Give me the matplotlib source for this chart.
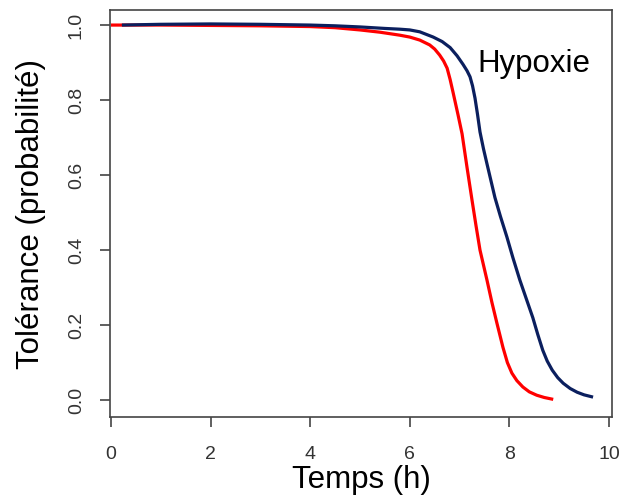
import numpy as np
import matplotlib
matplotlib.use("Agg")
from matplotlib import pyplot as plt

# valeurs
temps_normoxie = [0.0, 1.0, 2.0, 3.0, 4.0, 4.5, 5.0, 5.4, 5.8, 6.0, 6.2, 6.4, 6.5, 6.6, 6.68, 6.75,
                  6.81, 6.87, 6.92, 6.97, 7.05, 7.15, 7.25, 7.33, 7.41, 7.48, 7.55, 7.65, 7.75,
                  7.87, 7.96, 8.05, 8.15, 8.27, 8.4, 8.55, 8.7, 8.88]
tol_normoxie = [1.0, 1.0, 0.999, 0.998, 0.996, 0.993, 0.987, 0.981, 0.973, 0.968, 0.96, 0.947,
                0.936, 0.92, 0.904, 0.885, 0.855, 0.82, 0.79, 0.76, 0.71, 0.62, 0.533, 0.465,
                0.40, 0.36, 0.32, 0.26, 0.205, 0.141, 0.10, 0.072, 0.052, 0.035, 0.022, 0.013,
                0.007, 0.002]

temps_hypoxie = [0.22, 1.0, 2.0, 3.0, 4.0, 4.5, 5.0, 5.5, 5.8, 6.0, 6.2, 6.47, 6.65, 6.81, 6.95,
                 7.07, 7.15, 7.21, 7.26, 7.31, 7.36, 7.41, 7.48, 7.55, 7.63, 7.71, 7.82, 7.95,
                 8.07, 8.21, 8.34, 8.47, 8.57, 8.67, 8.76, 8.86, 8.97, 9.08, 9.22, 9.36, 9.5,
                 9.68]
tol_hypoxie = [1.0, 1.002, 1.003, 1.002, 1.0, 0.998, 0.995, 0.991, 0.989, 0.987, 0.982, 0.968,
               0.956, 0.94, 0.918, 0.895, 0.878, 0.862, 0.838, 0.805, 0.762, 0.715, 0.67, 0.63,
               0.585, 0.54, 0.49, 0.435, 0.38, 0.32, 0.27, 0.22, 0.175, 0.133, 0.104, 0.08,
               0.06, 0.045, 0.031, 0.021, 0.014, 0.008]

xticks = [0, 2, 4, 6, 8, 10]
yticks = [0.0, 0.2, 0.4, 0.6, 0.8, 1.0]

plt.rcParams['font.family'] = ['Liberation Sans', 'DejaVu Sans']

fig = plt.figure(figsize=(6.21, 5.03), dpi=100)
ax = fig.add_axes([0.177, 0.171, 0.8085, 0.809])

ax.plot(temps_normoxie, tol_normoxie, color='#ff0000', lw=2.3, solid_capstyle='butt')
ax.plot(temps_hypoxie, tol_hypoxie, color='#0b1f5e', lw=2.3, solid_capstyle='butt')

ax.text(7.35, 0.876, "Hypoxie", fontsize=22.5, color='black')

ax.set_xlim(-0.02, 10.06)
ax.set_ylim(-0.045, 1.04)
ax.set_xticks(xticks)
ax.set_yticks(yticks)
ax.set_xticklabels([str(t) for t in xticks], fontsize=14, color='#333333')
ax.set_yticklabels(["%.1f" % t for t in yticks], fontsize=14, color='#333333',
                   rotation=90, va='center')
ax.tick_params(length=7, width=1.2, color='#444444')
ax.tick_params(axis='x', pad=14)
ax.tick_params(axis='y', pad=11)

for s in ax.spines.values():
    s.set_color('#444444')
    s.set_linewidth(1.2)

ax.set_xlabel("Temps (h)", fontsize=22.5, labelpad=1)
ax.set_ylabel("Tolérance (probabilité)", fontsize=22.5, labelpad=16)

plt.savefig("out.png", dpi=100)
